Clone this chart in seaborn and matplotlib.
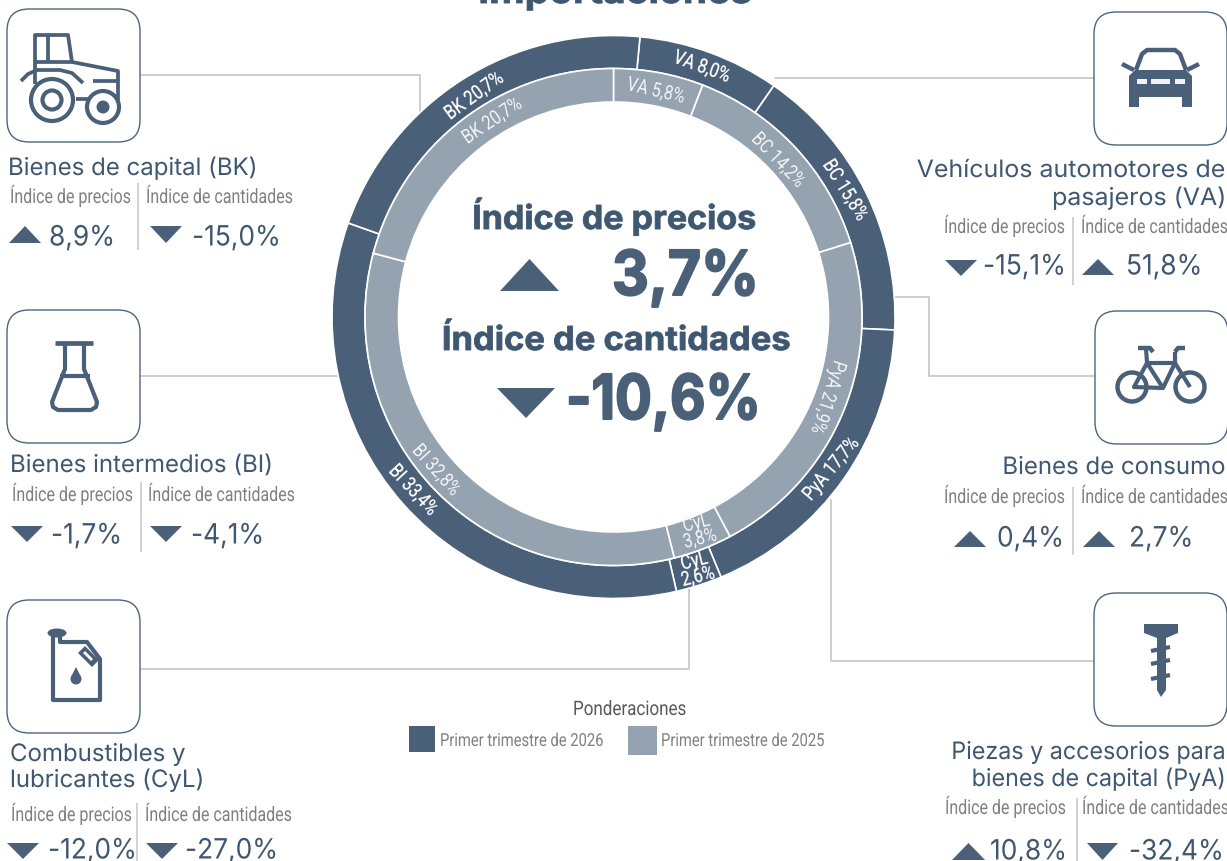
import seaborn as sns
import matplotlib.pyplot as plt
from matplotlib.patches import FancyBboxPatch, Polygon, Circle, Ellipse, Rectangle
from matplotlib.patheffects import AbstractPathEffect
from matplotlib.transforms import Affine2D

sns.set_theme(style="white")

DARK = '#4a6079'
GREY = '#95a3b0'
TXT = '#3f5770'
LAB = '#808080'
LINE = '#c9c9c9'
NARROW = ['Roboto', 'DejaVu Sans']
WIDE = ['Inter', 'DejaVu Sans']

# ponderaciones: VA, BC, PyA, CyL, BI, BK (clockwise)
sectores = ['VA', 'BC', 'PyA', 'CyL', 'BI', 'BK']
pond_2026 = [8.0, 15.8, 17.7, 2.6, 33.4, 20.7]
pond_2025 = [5.8, 14.2, 21.9, 3.8, 32.8, 20.7]
etiq_2026 = ['BK 20,7%', 'VA 8,0%', 'BC 15,8%', 'PyA 17,7%', 'CyL\n2,6%', 'BI 33,4%']
etiq_2025 = ['BK 20,7%', 'VA 5,8%', 'BC 14,2%', 'PyA 21,9%', 'CyL\n3,8%', 'BI 32,8%']

# variaciones por panel
precios = ['8,9%', '-1,7%', '-12,0%', '-15,1%', '0,4%', '10,8%']
cantidades = ['-15,0%', '-4,1%', '-27,0%', '51,8%', '2,7%', '-32,4%']
titulos = [['Bienes de capital (BK)'], ['Bienes intermedios (BI)'], ['Combustibles y', 'lubricantes (CyL)'],
           ['Vehículos automotores de', 'pasajeros (VA)'], ['Bienes de consumo'],
           ['Piezas y accesorios para', 'bienes de capital (PyA)']]

fig = plt.figure(figsize=(12.27, 8.62), dpi=100)
ax = fig.add_axes([0, 0, 1, 1])


# the narrow and wide fonts of the original are not installed, so stretch the glyphs
class Stretch(AbstractPathEffect):
    def __init__(self, sx, ha, stroke=0):
        super().__init__()
        self.sx = sx
        self.ha = ha
        self.stroke = stroke

    def draw_path(self, renderer, gc, tpath, affine, rgbFace=None):
        box = tpath.get_extents()
        a = {'left': 0, 'center': (box.x0 + box.x1) / 2, 'right': box.x1}[self.ha]
        t = Affine2D().translate(-a, 0).scale(self.sx, 1).translate(a, 0) + affine
        g = renderer.new_gc()
        g.copy_properties(gc)
        if self.stroke:
            g.set_linewidth(self.stroke)
            g.set_foreground(rgbFace)
        renderer.draw_path(g, tpath, t, rgbFace)
        g.restore()


def Y(y):
    return 861 - y


def poly(pts, color=DARK, lw=2.7, closed=False, z=5):
    xs = [p[0] for p in pts]
    ys = [Y(p[1]) for p in pts]
    if closed:
        xs.append(xs[0])
        ys.append(ys[0])
    ax.plot(xs, ys, color=color, lw=lw, solid_capstyle='butt', solid_joinstyle='round', zorder=z)


def solid(pts, color=DARK, z=5):
    ax.add_patch(Polygon([(p[0], Y(p[1])) for p in pts], closed=True, fc=color, ec='none', zorder=z))


def ring(x, y, r, lw=2.7):
    ax.add_patch(Circle((x, Y(y)), r, fc='none', ec=DARK, lw=lw, zorder=5))


def tri(x0, x1, y0, y1, up):
    if up:
        solid([(x0, y1), (x1, y1), ((x0 + x1) / 2, y0)])
    else:
        solid([(x0, y0), (x1, y0), ((x0 + x1) / 2, y1)])


def txt(x, y, s, size, color=TXT, fam=WIDE, ha='left', va='center', weight='normal', rot=0, sx=1.0, stroke=0):
    t = ax.text(x, Y(y), s, fontsize=size * 0.72, color=color, family=fam, ha=ha, va=va,
                fontweight=weight, rotation=rot, rotation_mode='anchor', zorder=6, linespacing=0.8)
    t.set_path_effects([Stretch(sx, ha, stroke)])
    return t


# conectores
conectores = [
    ([140, 420, 420], [75, 75, 115]),
    ([775, 1094], [78, 78]),
    ([890, 929, 929, 1095], [297, 297, 376, 376]),
    ([831, 831, 1094], [500, 661, 661]),
    ([689, 689, 140], [585, 669, 669]),
    ([140, 340], [376, 376]),
]
for xs, ys in conectores:
    sns.lineplot(x=xs, y=[Y(v) for v in ys], sort=False, estimator=None, color=LINE, lw=1.3, ax=ax, zorder=1)

# anillos
ax.pie(pond_2026, radius=281.5, center=(613.5, Y(317)), startangle=90 - 5.4, counterclock=False,
       colors=[DARK] * 6, wedgeprops=dict(width=33, edgecolor='white', linewidth=1.2, zorder=2))
ax.pie(pond_2025, radius=248.5, center=(613.5, Y(317)), startangle=90, counterclock=False,
       colors=[GREY] * 6, wedgeprops=dict(width=33.5, edgecolor='white', linewidth=1.2, zorder=2))

# etiquetas del anillo (posicion y giro)
pos_2026 = [(474, 96, 36), (702, 67, -20), (845, 190, -58), (831, 469, 50), (696, 569, 14), (413, 490, -47)]
pos_2025 = [(492, 121, 34), (656, 91, -13), (778, 160, -46), (828, 397, -108), (698, 531, 14), (436, 470, -48)]
for s, (x, y, r) in zip(etiq_2026, pos_2026):
    txt(x, y, s, 20, color='white', fam=NARROW, ha='center', rot=r, sx=0.82, stroke=0.2)
for s, (x, y, r) in zip(etiq_2025, pos_2025):
    txt(x, y, s, 20, color='#f1f3f5', fam=NARROW, ha='center', rot=r, sx=0.82)

# centro
txt(615, 3, 'Importaciones', 36, ha='center', va='baseline', weight='bold', sx=1.08, stroke=0.6)
txt(614, 229, 'Índice de precios', 33, ha='center', va='baseline', weight='bold', sx=1.03, stroke=0.6)
txt(612, 295, '3,7%', 62, ha='left', va='baseline', weight='bold', color=DARK, sx=0.92, stroke=1.4)
tri(500, 559, 259, 291, True)
txt(616, 350, 'Índice de cantidades', 33, ha='center', va='baseline', weight='bold', sx=1.045, stroke=0.6)
txt(566, 419, '-10,6%', 62, ha='left', va='baseline', weight='bold', color=DARK, sx=0.88, stroke=1.4)
tri(497, 555, 388, 418, False)

# paneles: caja, titulo, etiquetas, valores
cajas = [(7, 9), (7, 310), (7, 600), (1094, 12), (1095, 311), (1094, 593)]
for x, y in cajas:
    ax.add_patch(FancyBboxPatch((x + 22, Y(y + 133) + 22), 89, 89, boxstyle='round,pad=22,rounding_size=22',
                                fc='white', ec='#4c6580', lw=1.0, zorder=3))

# (x titulo, y lineas, x lab1, x lab2, y lab, x sep, y0 sep, y1 sep, tri1, x val1, tri2, x val2, y val)
paneles = [
    (8, [175], 10, 146, 197, 138, 183, 250, (9, 41, 226, 243), 49, (150, 182, 226, 243), 192, 236),
    (10, [472], 12, 148, 495, 141, 482, 552, (11, 43, 526, 542), 51, (150, 182, 526, 542), 191, 534),
    (10, [761, 787], 11, 145, 815, 137, 803, 862, (7, 39, 843, 859), 48, (146, 178, 843, 859), 185, 849),
    (1226, [177, 205], 944, 1081, 227, 1073, 217, 285, (945, 977, 260, 276), 983, (1082, 1114, 259, 275), 1126, 265),
    (1226, [474], 944, 1081, 497, 1073, 487, 555, (954, 986, 531, 547), 997, (1083, 1115, 531, 547), 1129, 537),
    (1226, [759, 786], 945, 1082, 808, 1077, 798, 862, (952, 985, 843, 860), 990, (1087, 1118, 843, 860), 1129, 850),
]
ajuste = [1.0, 1.0, 1.0, 1.04, 1.0, 0.97]
for i, p in enumerate(paneles):
    xt, ylines, xl1, xl2, yl, xs, s0, s1, t1, xv1, t2, xv2, yv = p
    ha = 'right' if xt > 600 else 'left'
    for line, yy in zip(titulos[i], ylines):
        txt(xt, yy, line, 24, ha=ha, va='baseline', sx=ajuste[i])
    txt(xl1, yl + 6, 'Índice de precios', 20, color=LAB, fam=NARROW, va='baseline', sx=0.8)
    txt(xl2, yl + 6, 'Índice de cantidades', 20, color=LAB, fam=NARROW, va='baseline', sx=0.8)
    poly([(xs, s0), (xs, s1)], color=LINE, lw=1.2)
    tri(t1[0], t1[1], t1[2], t1[3], not precios[i].startswith('-'))
    tri(t2[0], t2[1], t2[2], t2[3], not cantidades[i].startswith('-'))
    txt(xv1, yv + 2, precios[i], 28, sx=0.94)
    txt(xv2, yv + 2, cantidades[i], 28, sx=0.94)

# tractor
poly([(35, 62), (35, 35), (68, 35), (72, 62), (35, 62)])
poly([(48, 35), (48, 62)])
poly([(72, 62), (118, 71), (118, 100)])
poly([(93, 81), (118, 81)])
poly([(21, 81), (28, 74), (37, 70), (60, 70), (72, 73), (83, 83)])
poly([(35, 62), (35, 84)])
poly([(76, 99), (90, 99)])
ring(52, 100, 21, 3)
ring(52, 100, 9.5, 3)
ring(103, 107, 16, 3)
ax.add_patch(Circle((103, Y(107)), 6.5, fc=DARK, ec='none', zorder=5))

# matraz
poly([(55, 343), (93, 343)], lw=3.4)
poly([(65, 343), (65, 369), (52, 402), (53, 407), (58, 410), (91, 410), (96, 407), (97, 402), (84, 369), (84, 343)], lw=3)
poly([(60, 376), (90, 376)], lw=3)

# bidon
ax.add_patch(Ellipse((57, Y(633)), 19, 9, fc=DARK, ec='none', zorder=5))
poly([(60, 635), (53, 635), (53, 700), (100, 700), (100, 659), (87, 642), (60, 642), (60, 636)], lw=3)
solid([(78, 653), (85, 646), (99, 660), (92, 667)])
solid([(83, 653), (85, 651), (93, 659), (91, 661)], color='white')
ax.add_patch(Circle((76, Y(679)), 5.5, fc=DARK, ec='none', zorder=5))
solid([(71, 677), (76, 667), (81, 677)])

# auto
solid([(1129, 76), (1135, 70), (1186, 70), (1192, 76), (1192, 107), (1182, 107), (1182, 97), (1139, 97), (1139, 107), (1129, 107)])
poly([(1136, 70), (1142, 54), (1147, 50), (1175, 50), (1180, 54), (1186, 70)], lw=3.2)
poly([(1122, 64), (1134, 70)], lw=3.2)
poly([(1199, 64), (1187, 70)], lw=3.2)
for x0, x1 in [(1137, 1147), (1151, 1170), (1175, 1185)]:
    ax.add_patch(Rectangle((x0, Y(84)), x1 - x0, 5, fc='#f2f2f2', ec='none', zorder=6))

# bici
ring(1132, 387, 14.5, 3.2)
ring(1190, 387, 14.5, 3.2)
poly([(1138, 348), (1150, 348), (1153, 352)], lw=3.2)
poly([(1146, 348), (1147, 363), (1134, 387), (1163, 388), (1175, 363), (1147, 363)], lw=3)
poly([(1147, 363), (1163, 388)], lw=3)
poly([(1175, 352), (1175, 363), (1190, 387)], lw=3)
poly([(1175, 352), (1178, 348), (1185, 348)], lw=3.2)

# tornillo
solid([(1144, 624), (1178, 624), (1178, 633), (1166, 638), (1166, 690), (1161, 697), (1157, 690), (1157, 638), (1144, 633)])
for y in [649, 662, 677]:
    poly([(1151, y + 2), (1170, y - 2)], lw=3)

# leyenda
txt(573, 715, 'Ponderaciones', 20, color='#595959', fam=NARROW, va='baseline', sx=0.85)
ax.add_patch(Rectangle((409, Y(752)), 26, 26, fc=DARK, ec='none'))
ax.add_patch(Rectangle((628, Y(755)), 29, 29, fc=GREY, ec='none'))
txt(440, 746, 'Primer trimestre de 2026', 18, color=LAB, fam=NARROW, va='baseline', sx=0.82)
txt(661, 746, 'Primer trimestre de 2025', 18, color=LAB, fam=NARROW, va='baseline', sx=0.82)

ax.set_xlim(0, 1227)
ax.set_ylim(0, 862)
ax.set_aspect('equal')
ax.axis('off')
fig.savefig('out.png', dpi=100, facecolor='white')
